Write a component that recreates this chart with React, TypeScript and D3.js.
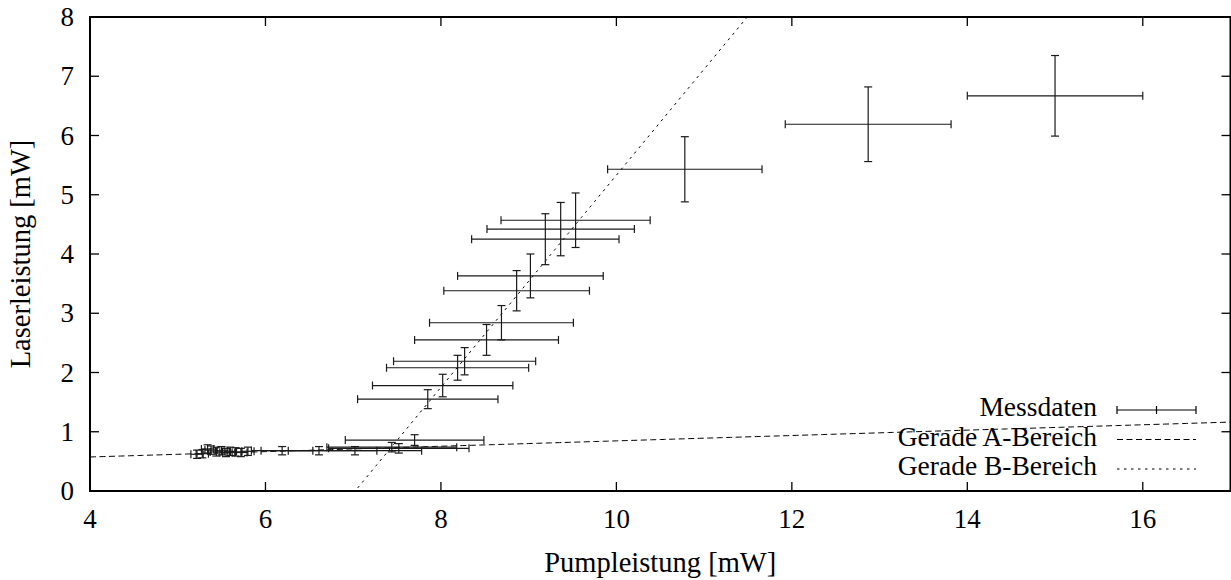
import React from "react";
import * as d3 from "d3";

const W = 1231;
const H = 580;

// Messdaten: Pumpleistung (x), Laserleistung (y), errors
const pumpX = [5.22, 5.28, 5.34, 5.38, 5.44, 5.50, 5.55, 5.60, 5.66, 5.72, 5.80,
  6.19, 6.61, 7.02, 7.44, 7.52, 7.70,
  7.85, 8.02, 8.19, 8.27, 8.52, 8.69, 8.863, 9.02, 9.19, 9.365, 9.535, 10.78, 12.87, 15.0];
const laserY = [0.62, 0.63, 0.71, 0.69, 0.66, 0.68, 0.65, 0.67, 0.66, 0.65, 0.67,
  0.68, 0.68, 0.68, 0.74, 0.72, 0.86,
  1.55, 1.78, 2.08, 2.19, 2.55, 2.84, 3.38, 3.63, 4.25, 4.42, 4.57, 5.43, 6.19, 6.67];
const pumpErr = [0.07, 0.07, 0.07, 0.07, 0.07, 0.07, 0.07, 0.07, 0.07, 0.07, 0.07,
  0.35, 0.66, 0.76, 0.74, 0.80, 0.79,
  0.80, 0.80, 0.81, 0.81, 0.82, 0.82, 0.83, 0.83, 0.84, 0.84, 0.85, 0.88, 0.945, 1.0];
const laserErr = [0.07, 0.07, 0.07, 0.07, 0.07, 0.07, 0.07, 0.07, 0.07, 0.07, 0.07,
  0.07, 0.07, 0.07, 0.08, 0.08, 0.09,
  0.16, 0.19, 0.21, 0.23, 0.26, 0.29, 0.34, 0.37, 0.43, 0.45, 0.46, 0.55, 0.63, 0.68];

// Fit lines y = m*x + b
const lineA = { m: 0.0453, b: 0.393 };
const lineB = { m: 1.79, b: -12.57 };

const xTicks = [4, 6, 8, 10, 12, 14, 16];
const yTicks = [0, 1, 2, 3, 4, 5, 6, 7, 8];
const legendLabels = ["Messdaten", "Gerade A-Bereich", "Gerade B-Bereich"];

const FONT = "'Liberation Serif', 'DejaVu Serif', serif";

export default function App() {
  const left = 90, right = 1230.5, top = 17, bottom = 491;
  const x = d3.scaleLinear().domain([4, 17]).range([left, right]);
  const y = d3.scaleLinear().domain([0, 8]).range([bottom, top]);

  const xs = d3.range(4, 17.0001, 0.05);
  const pathA = d3.line<number>().x((d) => x(d)).y((d) => y(lineA.m * d + lineA.b))(xs) || "";
  const pathB = d3.line<number>().x((d) => x(d)).y((d) => y(lineB.m * d + lineB.b))(xs) || "";

  const pts = pumpX.map((px, i) => ({ x: px, y: laserY[i], ex: pumpErr[i], ey: laserErr[i] }));
  const cap = 4;
  const tick = 9;

  const legX0 = 1117, legX1 = 1196, legTextX = 1097;
  const legY = [410, 439.5, 469];

  return (
    <svg width={W} height={H} style={{ position: "absolute", left: 0, top: 0, display: "block", background: "#fff" }}>
      <defs>
        <clipPath id="plotclip">
          <rect x={left} y={top} width={right - left} height={bottom - top} />
        </clipPath>
      </defs>
      <rect x={0} y={0} width={W} height={H} fill="#fff" />

      {/* ticks */}
      <g stroke="#000" strokeWidth={1.3}>
        {xTicks.map((t) => (
          <g key={"xt" + t}>
            <line x1={x(t)} x2={x(t)} y1={bottom} y2={bottom - tick} />
            <line x1={x(t)} x2={x(t)} y1={top} y2={top + tick} />
          </g>
        ))}
        {yTicks.map((t) => (
          <g key={"yt" + t}>
            <line x1={left} x2={left + tick} y1={y(t)} y2={y(t)} />
            <line x1={right} x2={right - tick} y1={y(t)} y2={y(t)} />
          </g>
        ))}
      </g>

      {/* tick labels */}
      <g fontFamily={FONT} fontSize={27} fill="#000">
        {xTicks.map((t) => (
          <text key={"xl" + t} x={x(t)} y={528} textAnchor="middle">{t}</text>
        ))}
        {yTicks.map((t) => (
          <text key={"yl" + t} x={74} y={y(t) + 9} textAnchor="end">{t}</text>
        ))}
      </g>
      <g fontFamily={FONT} fontSize={28.5} fill="#000">
        <text x={(left + right) / 2} y={572} textAnchor="middle">Pumpleistung [mW]</text>
        <text transform={`translate(30, ${(top + bottom) / 2}) rotate(-90)`} textAnchor="middle">Laserleistung [mW]</text>
      </g>

      {/* fit lines */}
      <g clipPath="url(#plotclip)" fill="none" stroke="#000">
        <path d={pathA} strokeWidth={1} strokeDasharray="6,3.5" />
        <path d={pathB} strokeWidth={1} strokeDasharray="2.5,4.5" />
      </g>

      {/* error bars */}
      <g stroke="#1a1a1a" strokeWidth={1.2} fill="none">
        {pts.map((p, i) => {
          const cx = x(p.x), cy = y(p.y);
          const x0 = x(p.x - p.ex), x1 = x(p.x + p.ex);
          const y0 = y(p.y - p.ey), y1 = y(p.y + p.ey);
          return (
            <g key={"p" + i}>
              <line x1={x0} x2={x1} y1={cy} y2={cy} />
              <line x1={x0} x2={x0} y1={cy - cap} y2={cy + cap} />
              <line x1={x1} x2={x1} y1={cy - cap} y2={cy + cap} />
              <line x1={cx} x2={cx} y1={y0} y2={y1} />
              <line x1={cx - cap} x2={cx + cap} y1={y0} y2={y0} />
              <line x1={cx - cap} x2={cx + cap} y1={y1} y2={y1} />
            </g>
          );
        })}
      </g>

      {/* legend */}
      <g fontFamily={FONT} fontSize={27.5} fill="#000">
        {legendLabels.map((l, i) => (
          <text key={"lg" + i} x={legTextX} y={legY[i] + 6} textAnchor="end">{l}</text>
        ))}
      </g>
      <g stroke="#000" fill="none">
        <line x1={legX0} x2={legX1} y1={legY[0]} y2={legY[0]} strokeWidth={1.2} />
        <line x1={legX0} x2={legX0} y1={legY[0] - cap} y2={legY[0] + cap} strokeWidth={1.2} />
        <line x1={legX1} x2={legX1} y1={legY[0] - cap} y2={legY[0] + cap} strokeWidth={1.2} />
        <line x1={(legX0 + legX1) / 2} x2={(legX0 + legX1) / 2} y1={legY[0] - cap} y2={legY[0] + cap} strokeWidth={1.2} />
        <line x1={legX0} x2={legX1} y1={legY[1]} y2={legY[1]} strokeWidth={1} strokeDasharray="6,3.5" />
        <line x1={legX0} x2={legX1} y1={legY[2]} y2={legY[2]} strokeWidth={1} strokeDasharray="2.5,4.5" />
      </g>

      {/* border */}
      <rect x={left} y={top} width={right - left} height={bottom - top} fill="none" stroke="#000" strokeWidth={2} />
    </svg>
  );
}
